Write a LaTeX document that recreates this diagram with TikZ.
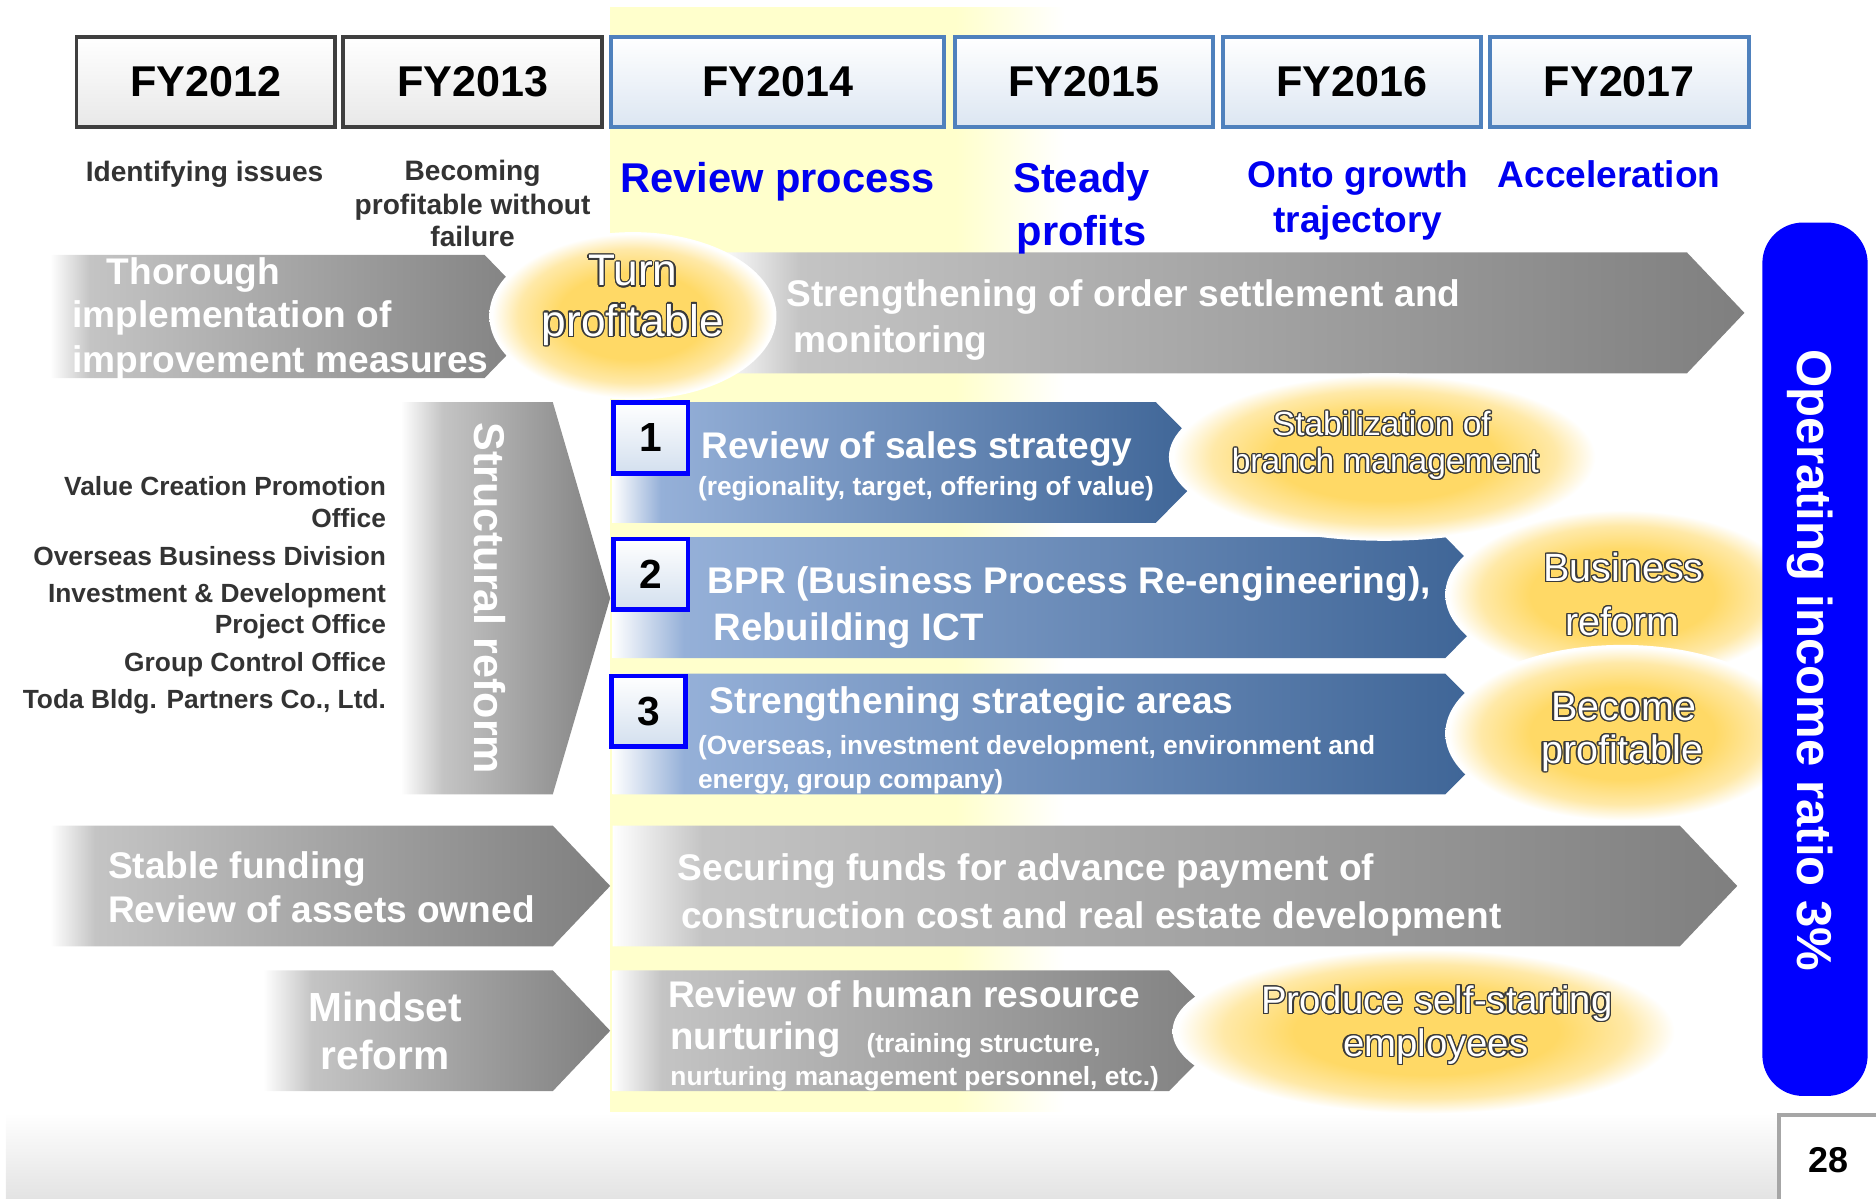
\documentclass[tikz,border=0pt]{standalone}
\usepackage{fontspec}
\setmainfont{Liberation Sans}
\usepackage[copies]{contour}
\usetikzlibrary{shapes.geometric}
\definecolor{yband}{HTML}{FFFFCC}
\definecolor{gA}{HTML}{C4C4C4}
\definecolor{gB}{HTML}{7F7F7F}
\definecolor{bA}{HTML}{95B0D8}
\definecolor{bB}{HTML}{3B6294}
\definecolor{glowc}{HTML}{FFD966}
\definecolor{glowd}{HTML}{FFE9A8}
\definecolor{txtg}{HTML}{333333}
\definecolor{fyb}{HTML}{4F81BD}
\definecolor{fyd}{HTML}{3F3F3F}
\definecolor{vivid}{HTML}{0000FF}
\definecolor{ttl}{HTML}{0000F0}
\definecolor{ofill}{HTML}{FFFFFF}
\definecolor{oline}{HTML}{3A3A3A}
\definecolor{bgg}{HTML}{E3E3E3}
\definecolor{pgb}{HTML}{A6A6A6}
\pgfdeclarehorizontalshading{grayfade}{100bp}{color(0bp)=(white); color(25bp)=(white); color(29bp)=(gA); color(75bp)=(gB); color(100bp)=(gB)}
\pgfdeclarehorizontalshading{grayfadeM}{100bp}{color(0bp)=(white); color(25bp)=(white); color(32bp)=(gA); color(75bp)=(gB); color(100bp)=(gB)}
\pgfdeclarehorizontalshading{grayfadeS}{100bp}{color(0bp)=(white); color(25bp)=(white); color(35bp)=(gA); color(75bp)=(gB); color(100bp)=(gB)}
\pgfdeclarehorizontalshading{bluefade}{100bp}{color(0bp)=(white); color(25bp)=(white); color(29bp)=(bA); color(75bp)=(bB); color(100bp)=(bB)}
\pgfdeclarehorizontalshading{yfade}{100bp}{color(0bp)=(yband); color(63bp)=(yband); color(75bp)=(white); color(100bp)=(white)}
\pgfdeclareradialshading{glow}{\pgfpoint{0bp}{0bp}}{color(0bp)=(glowc); color(13bp)=(glowc); color(20bp)=(glowd); color(24.5bp)=(white); color(50bp)=(white)}
\newcommand{\myfs}[1]{\fontsize{#1}{#1}\selectfont}
\newcommand{\olt}[1]{\contour{oline}{#1}}
\contourlength{0.55pt}
\begin{document}
\begin{tikzpicture}[x=0.5pt,y=-0.5pt,
  lbl/.style={inner sep=0pt, anchor=base west},
  ctr/.style={inner sep=0pt, anchor=base},
  rgt/.style={inner sep=0pt, anchor=base east},
  fybox/.style={line width=1.6pt, top color=white, minimum width=108pt, minimum height=37.5pt, inner sep=0pt, font=\bfseries\myfs{18}},
  fyold/.style={fybox, draw=fyd, bottom color=black!9},
  fynew/.style={fybox, draw=fyb, bottom color=fyb!20},
  numbox/.style={draw=vivid, line width=2pt, top color=white, bottom color=fyb!25, minimum width=31pt, minimum height=29.5pt, inner sep=0pt, font=\bfseries\myfs{17}},
  glowe/.style={ellipse, shading=glow, inner sep=0pt},
  wt/.style={text=white, font=\bfseries\myfs{15.5}},
  wts/.style={text=white, font=\bfseries\myfs{11}},
  gt/.style={text=txtg, font=\bfseries\myfs{11.75}},
  bt/.style={text=ttl, font=\bfseries\myfs{17.4}},
  bts/.style={text=ttl, font=\bfseries\myfs{15.5}},
  ot/.style={text=ofill}
]
\useasboundingbox (0,0) rectangle (1568,1002);

% background bands
\path[shading=yfade] (510,6) rectangle (890,930);
\path[top color=white, bottom color=bgg] (5,930) rectangle (1568,1002);

% gray and blue arrows
\path[shading=grayfade] (42,213) -- (405,213) -- (455,264.5) -- (405,316) -- (42,316) -- cycle;
\path[shading=grayfade] (600,211) -- (1410,211) -- (1458,261.5) -- (1410,312) -- (600,312) -- cycle;
\path[shading=grayfadeS] (335,336) -- (462,336) -- (510,500) -- (462,664) -- (335,664) -- cycle;
\path[shading=bluefade] (512,336) -- (966,336) -- (1016,386.5) -- (966,437) -- (512,437) -- cycle;
\path[shading=bluefade] (512,449) -- (1208,449) -- (1258,499.5) -- (1208,550) -- (512,550) -- cycle;
\path[shading=bluefade] (512,563) -- (1208,563) -- (1258,613.5) -- (1208,664) -- (512,664) -- cycle;
\path[shading=grayfade] (42,690) -- (462,690) -- (510,740.5) -- (462,791) -- (42,791) -- cycle;
\path[shading=grayfade] (512,690) -- (1404,690) -- (1452,740.5) -- (1404,791) -- (512,791) -- cycle;
\path[shading=grayfadeM] (220,811) -- (462,811) -- (510,861.5) -- (462,912) -- (220,912) -- cycle;
\path[shading=grayfade] (512,811) -- (977,811) -- (1027,861.5) -- (977,912) -- (512,912) -- cycle;

% glows
\node[glowe, minimum width=120pt, minimum height=70pt] (gturn) at (529,264) {};
\node[glowe, minimum width=180pt, minimum height=70pt] (gstab) at (1157,382) {};
\node[glowe, minimum width=148pt, minimum height=72pt] (gbus) at (1356,497) {};
\node[glowe, minimum width=148pt, minimum height=74pt] (gbec) at (1356,613) {};
\node[glowe, minimum width=212pt, minimum height=70pt] (gprod) at (1192,862) {};

% FY boxes
\node[fyold] (fy12) at (172,68.5) {FY2012};
\node[fyold] (fy13) at (395,68.5) {FY2013};
\node[fynew, minimum width=139pt] (fy14) at (650,68.5) {FY2014};
\node[fynew] (fy15) at (906,68.5) {FY2015};
\node[fynew] (fy16) at (1130,68.5) {FY2016};
\node[fynew] (fy17) at (1353.5,68.5) {FY2017};

% phase titles
\node[ctr, gt] (t12) at (171,152) {Identifying issues};
\node[ctr, gt] (t13a) at (395,151) {Becoming};
\node[ctr, gt] (t13b) at (395,179) {profitable without};
\node[ctr, gt] (t13c) at (395,206) {failure};
\node[ctr, bt] (t14) at (650,161) {Review process};
\node[ctr, bt] (t15a) at (904,161) {Steady};
\node[ctr, bt] (t15b) at (904,205) {profits};
\node[ctr, bts] (t16a) at (1135,157) {Onto growth};
\node[ctr, bts] (t16b) at (1135,194) {trajectory};
\node[ctr, bts] (t17) at (1345,157) {Acceleration};

% row 1 texts
\begin{scope}
\clip (42,213) -- (405,213) -- (455,264.5) -- (405,316) -- (42,316) -- cycle;
\node[lbl, wt] (th1) at (89,238) {Thorough};
\node[lbl, wt] (th2) at (60,274) {implementation of};
\node[lbl, wt] (th3) at (60,311) {improvement measures};
\end{scope}
\node[ctr, ot, font=\myfs{18.5}] (turn1) at (529,239) {\olt{Turn}};
\node[ctr, ot, font=\myfs{18.5}] (turn2) at (529,281) {\olt{profitable}};
\node[lbl, wt] (so1) at (657,256) {Strengthening of order settlement and};
\node[lbl, wt] (so2) at (663,295) {monitoring};

% structural reform
\node[rotate=-90, anchor=base, inner sep=0pt, text=white, font=\bfseries\myfs{18}] (sr) at (397,500) {Structural reform};
\node[rgt, gt, font=\bfseries\myfs{11}] (l1) at (323,414) {Value Creation Promotion};
\node[rgt, gt, font=\bfseries\myfs{11}] (l2) at (323,440.5) {Office};
\node[rgt, gt, font=\bfseries\myfs{11}] (l3) at (323,472.5) {Overseas Business Division};
\node[rgt, gt, font=\bfseries\myfs{11}] (l4) at (323,503.5) {Investment \& Development};
\node[rgt, gt, font=\bfseries\myfs{11}] (l5) at (323,529.5) {Project Office};
\node[rgt, gt, font=\bfseries\myfs{11}] (l6) at (323,561) {Group Control Office};
\node[rgt, gt, font=\bfseries\myfs{11}] (l7) at (323,592) {Toda Bldg. Partners Co., Ltd.};

% number boxes
\node[numbox] (n1) at (544,366) {1};
\node[numbox] (n2) at (544,480) {2};
\node[numbox] (n3) at (542,594.5) {3};

% blue arrow texts
\node[lbl, wt] (b1a) at (586,383) {Review of sales strategy};
\node[lbl, wts] (b1b) at (583,414) {(regionality, target, offering of value)};
\node[lbl, wt] (b2a) at (591,496) {BPR (Business Process Re-engineering),};
\node[lbl, wt, font=\bfseries\myfs{16}] (b2b) at (596,535) {Rebuilding ICT};
\node[lbl, wt] (b3a) at (593,596) {Strengthening strategic areas};
\node[lbl, wts] (b3b) at (583,631) {(Overseas, investment development, environment and};
\node[lbl, wts] (b3c) at (583,659) {energy, group company)};

% outlined results
\node[ctr, ot, font=\myfs{14}] (st1) at (1155,364) {\olt{Stabilization of}};
\node[ctr, ot, font=\myfs{14}] (st2) at (1158,395) {\olt{branch management}};
\node[ctr, ot, font=\myfs{16.5}] (bu1) at (1357,486) {\olt{Business}};
\node[ctr, ot, font=\myfs{16.5}] (bu2) at (1356,531) {\olt{reform}};
\node[ctr, ot, font=\myfs{16.5}] (be1) at (1357,602) {\olt{Become}};
\node[ctr, ot, font=\myfs{16.5}] (be2) at (1356,638) {\olt{profitable}};
\node[ctr, ot, font=\myfs{16}] (pr1) at (1201,847) {\olt{Produce self-starting}};
\node[ctr, ot, font=\myfs{16}] (pr2) at (1200,883) {\olt{employees}};

% lower rows
\node[lbl, wt] (sf1) at (90,734) {Stable funding};
\node[lbl, wt] (sf2) at (90,771) {Review of assets owned};
\node[lbl, wt] (sc1) at (566,736) {Securing funds for advance payment of};
\node[lbl, wt] (sc2) at (569,776) {construction cost and real estate development};
\node[ctr, wt, font=\bfseries\myfs{17}] (mr1) at (322,854) {Mindset};
\node[ctr, wt, font=\bfseries\myfs{17}] (mr2) at (322,894) {reform};
\node[lbl, wt] (hr1) at (558,842) {Review of human resource};
\node[lbl, wt, font=\bfseries\myfs{16}] (hr2) at (560,877) {nurturing};
\node[lbl, wts] (hr3) at (724,880) {(training structure,};
\node[lbl, wts] (hr4) at (560,907) {nurturing management personnel, etc.)};

% operating income box
\node[fill=vivid, rounded corners=17pt, minimum width=44pt, minimum height=365pt, inner sep=0pt] (oirbox) at (1517,551) {};
\node[rotate=-90, anchor=base, inner sep=0pt, text=white, font=\bfseries\myfs{20.5}] (oir) at (1502,552) {Operating income ratio 3\%};

% page number
\path[fill=white] (1487,932) rectangle (1568,1002);
\draw[pgb, line width=1.5pt] (1487,1002) -- (1487,932) -- (1568,932);
\node[ctr, font=\bfseries\myfs{15}] (pg) at (1528,980) {28};
\end{tikzpicture}
\end{document}
